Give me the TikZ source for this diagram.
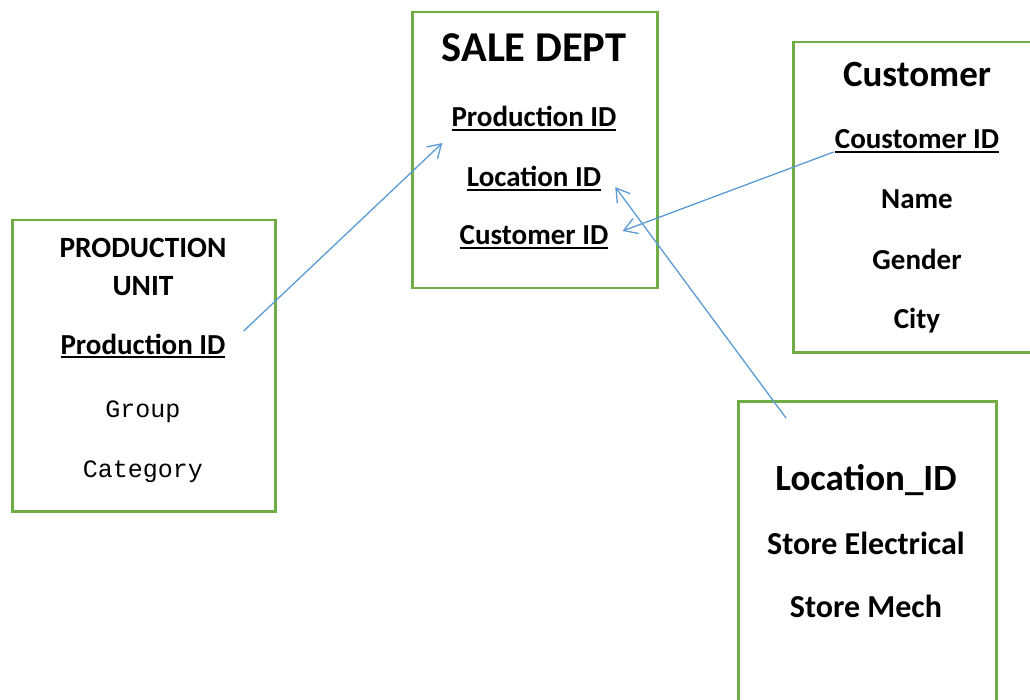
\documentclass[tikz,border=0pt]{standalone}
\usepackage{fontspec}
\setmainfont{Carlito}
\newfontfamily\codefont{Liberation Mono}
\usetikzlibrary{arrows.meta,calc}

\definecolor{boxgreen}{RGB}{112,173,71}
\definecolor{linkblue}{RGB}{91,155,213}

% key attribute: text with a rule underneath
\newcommand{\keyattr}[1]{\setbox0\hbox{#1}\rlap{\rule[-0.14em]{\wd0}{0.065em}}\box0}

\begin{document}
\begin{tikzpicture}[x=1pt, y=-1pt,
  entity/.style={draw=boxgreen, line width=2.5pt, inner sep=0pt, anchor=north west},
  attr/.style={font=\bfseries\fontsize{29}{35}\selectfont, inner sep=0pt, anchor=base},
  plain/.style={font=\codefont\fontsize{25}{30}\selectfont, inner sep=0pt, anchor=base},
  link/.style={draw=linkblue, line width=1.3pt, -{Straight Barb[length=13pt,width=16pt]}}]
% \draw[step=50,gray!50,very thin] (0,0) grid (1030,700);
\useasboundingbox (0,0) rectangle (1030,700);
\clip (0,0) rectangle (1030,700);

% boxes
\node[entity, minimum width=245, minimum height=276] (sale) at (411,11) {};
\node[entity, minimum width=263, minimum height=291] (unit) at (11,219) {};
\node[entity, minimum width=250, minimum height=310] (cust) at (792,41) {};
\node[entity, minimum width=258, minimum height=320] (loc) at (737,400) {};

% SALE DEPT
\node[attr, font=\bfseries\fontsize{42.5}{50}\selectfont] (saletitle) at (534,62) {SALE DEPT};
\node[attr] (saleprod) at (534,127) {\keyattr{Production ID}};
\node[attr] (saleloc) at (534,187) {\keyattr{Location ID}};
\node[attr] (salecust) at (534,245) {\keyattr{Customer ID}};

% PRODUCTION UNIT
\node[attr, font=\bfseries\fontsize{29.4}{35}\selectfont] (unittitle) at (143,258) {PRODUCTION};
\node[attr, font=\bfseries\fontsize{29.4}{35}\selectfont] (unittitleb) at (143,296) {UNIT};
\node[attr] (unitprod) at (143,354) {\keyattr{Production ID}};
\node[plain] (unitgroup) at (143,417) {Group};
\node[plain] (unitcat) at (143,477) {Category};

% Customer
\node[attr, font=\bfseries\fontsize{37}{44}\selectfont] (custtitle) at (917,87) {Customer};
\node[attr] (custid) at (917,149) {\keyattr{Coustomer ID}};
\node[attr] (custname) at (917,209) {Name};
\node[attr] (custgender) at (917,270) {Gender};
\node[attr] (custcity) at (917,329) {City};

% Location_ID
\node[attr, font=\bfseries\fontsize{37}{44}\selectfont] (loctitle) at (866,490) {Location\_ID};
\node[attr, font=\bfseries\fontsize{32}{38}\selectfont] (locelec) at (866,554) {Store Electrical};
\node[attr, font=\bfseries\fontsize{32}{38}\selectfont] (locmech) at (866,617) {Store Mech};

% links
\draw[link] ($(unitprod.base east)+(18,-23)$) -- ($(saleprod.base west)+(-9,16)$);
\draw[link] ($(custid.base west)+(-1,3)$) -- ($(salecust.base east)+(14,-14)$);
\draw[link] ($(loc.north west)+(49,18)$) -- ($(saleloc.base east)+(14,0)$);

\end{tikzpicture}
\end{document}
